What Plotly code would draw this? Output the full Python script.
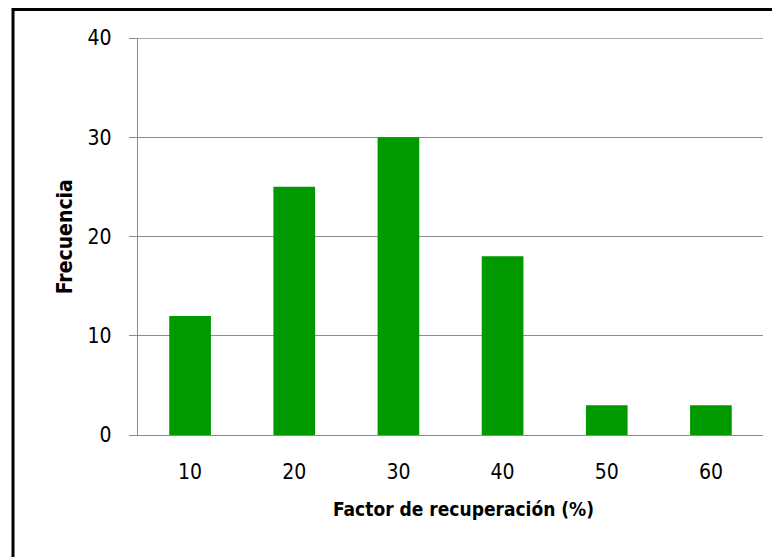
import plotly.graph_objects as go

categories = ["10", "20", "30", "40", "50", "60"]
frecuencia = [12, 25, 30, 18, 3, 3]
y_ticks = [0, 10, 20, 30, 40]

# page has an 8px body margin; figure coordinates = page coordinates - 8
OFF = 8
W, H = 772, 549
L, R, T, B = 130, 17, 29.5, 122
pw, ph = W - L - R, H - T - B

def px_x(x):
    return (x - OFF - L) / pw

def px_y(y):
    return (H - B - (y - OFF)) / ph

FONT = "DejaVu Sans Condensed, Open Sans"
GRID = "#8c8c8c"

fig = go.Figure(go.Bar(x=categories, y=frecuencia, marker=dict(color="#009900", line=dict(width=0))))

fig.update_layout(
    width=W, height=H,
    margin=dict(l=L, r=R, t=T, b=B, pad=0),
    paper_bgcolor="white", plot_bgcolor="white",
    bargap=0.6,
    showlegend=False,
    font=dict(family=FONT, size=21, color="black"),
    xaxis=dict(type="category", showgrid=False, showline=True, linecolor=GRID, linewidth=1.3,
               ticks="", tickfont=dict(size=21, family=FONT), ticklabelstandoff=18),
    yaxis=dict(range=[0, 40], tickvals=y_ticks, showgrid=True, gridcolor=GRID, gridwidth=1.3,
               showline=True, linecolor=GRID, linewidth=1.3, ticks="outside", ticklen=8,
               tickcolor=GRID, tickwidth=1.3, tickfont=dict(size=21, family=FONT),
               ticklabelstandoff=13, zeroline=False),
    annotations=[
        dict(text="<b>Factor de recuperación (%)</b>", xref="paper", yref="paper",
             x=px_x(464), y=px_y(509), showarrow=False, xanchor="center", yanchor="middle",
             font=dict(size=19, family=FONT)),
        dict(text="<b>Frecuencia</b>", xref="paper", yref="paper",
             x=px_x(65), y=px_y(237), showarrow=False, xanchor="center", yanchor="middle",
             textangle=-90, font=dict(size=21, family=FONT)),
    ],
    shapes=[
        dict(type="line", xref="paper", yref="y", x0=0, x1=1, y0=y_ticks[-1], y1=y_ticks[-1],
             line=dict(color=GRID, width=1.3)),
        dict(type="rect", xref="paper", yref="paper",
             x0=px_x(13), x1=px_x(820), y0=px_y(600), y1=px_y(9),
             line=dict(color="black", width=3), fillcolor="rgba(0,0,0,0)"),
    ],
)

fig.write_html("out.html")
